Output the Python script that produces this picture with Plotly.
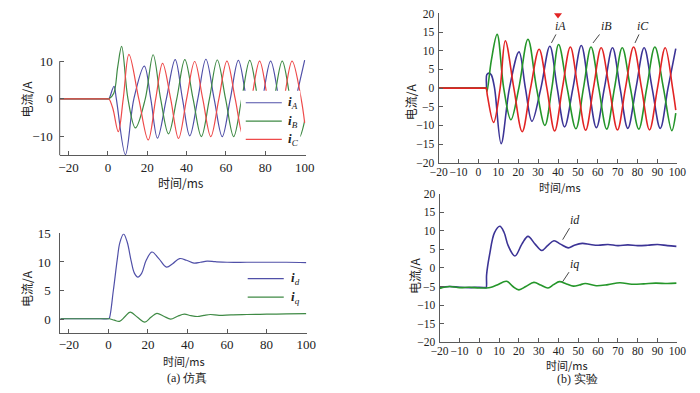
import plotly.graph_objects as go

W, H = 700, 393

# ---------------- data ----------------
# (a) simulation: three-phase currents (ms, A)
simA_t = [-24.5, -12.0, -4.0, 0.0, 0.5, 3.1, 4.3, 8.9, 13.2, 18.5, 21.8, 25.2, 29.7, 34.2, 37.9,
          41.6, 45.7, 49.8, 54.0, 58.1, 62.2, 66.3, 70.4, 74.6, 78.6, 82.7, 86.9, 91.0, 95.5, 100.0]
simA_v = [0, 0, 0, 0, 0, 3.3, 0, -14.8, 0, 8.7, 0, -10.4, 0, 10.4, 0,
          -9.8, 0, 10.5, 0, -10.0, 0, 10.2, 0, -10.0, 0, 10.0, 0, -10.0, 0, 10.3]
simB_t = [-24.5, -12.0, -4.0, 0.0, 0.5, 3.0, 5.0, 7.0, 10.2, 14.0, 19.0, 23.0, 26.8, 30.8, 35.0,
          39.1, 43.3, 47.5, 51.6, 55.6, 59.8, 63.9, 68.0, 72.1, 76.2, 80.4, 84.5, 88.6, 92.7, 97.2,
          100.0]
simB_v = [0, 0, 0, 0, 0, 1.5, 8.5, 13.9, 0, -7.7, 0, 11.7, 0, -9.3, 0,
          10.4, 0, -10.0, 0, 10.3, 0, -10.0, 0, 10.2, 0, -10.0, 0, 10.0, 0, -10.2,
          -5.8]
simC_t = [-24.5, -12.0, -4.0, 0.0, 0.5, 2.5, 5.3, 7.8, 10.7, 15.7, 20.5, 24.3, 27.8, 31.9, 35.9,
          40.0, 44.1, 48.2, 52.3, 56.4, 60.5, 64.7, 68.8, 73.0, 77.1, 81.2, 85.3, 89.5, 93.6, 98.2,
          100.0]
simC_v = [0, 0, 0, 0, 0, -2.5, -8.7, 0, 11.8, 0, -10.9, 0, 9.4, 0, -10.5,
          0, 9.9, 0, -10.0, 0, 10.0, 0, -10.0, 0, 10.0, 0, -10.0, 0, 10.0, 0,
          -6.4]

# (a) simulation: d-q currents
simD_t = [-24.3, -12.0, -4.0, 0.0, 0.4, 2.5, 4.5, 5.8, 7.7, 9.5, 11.5, 13.2, 14.9, 16.8, 19.0,
          22.0, 25.5, 29.4, 32.5, 36.0, 39.5, 43.3, 46.5, 49.9, 54.0, 60.0, 70.0, 80.0, 90.0, 100.0]
simD_v = [0.05, 0.05, 0.05, 0.05, 0.1, 5.0, 10.5, 13.4, 14.9, 13.5, 10.2, 8.0, 7.35, 8.0, 10.2,
          11.75, 10.6, 9.1, 9.7, 10.6, 10.3, 9.8, 9.95, 10.15, 10.05, 9.95, 9.95, 9.95, 9.95, 9.9]
simQ_t = [-24.3, -12.0, -4.0, 0.0, 0.5, 3.0, 5.6, 8.3, 11.0, 14.7, 18.4, 21.5, 24.5, 28.0,
          31.5, 35.0, 38.4, 41.7, 45.0, 48.3, 51.6, 56.0, 62.0, 70.0, 80.0, 90.0, 100.0]
simQ_v = [0.05, 0.05, 0.05, 0.05, 0.05, -0.2, -0.4, 0.4, 1.2, 0.3, -0.55, 0.3, 1.0, 0.5,
          0.0, 0.5, 0.85, 0.6, 0.45, 0.65, 0.8, 0.65, 0.75, 0.8, 0.85, 0.9, 0.95]

# (b) experiment: three-phase currents
expA_t = [-20, -12, -4, 3.5, 3.9, 4.2, 5.5, 6.5, 8.1, 11.4, 15.6, 20.4, 23.6, 26.9, 31.4, 35.9,
          39.6, 43.3, 47.5, 51.7, 55.5, 59.3, 63.3, 67.4, 71.2, 75.1, 79.2, 83.3, 87.3, 91.4,
          95.3, 99.2]
expA_v = [0, 0, 0, 0, 0, 3.6, 4.0, 3.5, 0, -14.9, 0, 9.7, 0, -8.9, 0, 11.2,
          0, -10.4, 0, 11.4, 0, -10.6, 0, 10.8, 0, -10.8, 0, 10.8, 0, -10.8,
          0, 10.6]
expB_t = [-20, -12, -4, 3.5, 3.9, 4.3, 6.5, 9.4, 12.7, 16.3, 20.3, 24.9, 29.2, 33.4, 36.9, 40.3,
          44.6, 49.0, 52.8, 56.6, 60.5, 64.5, 68.4, 72.3, 76.4, 80.6, 84.6, 88.7, 93.0, 97.2, 99.2]
expB_v = [0, 0, 0, 0, 0, -0.9, 7.5, 14.4, 0, -8.5, 0, 13.1, 0, -10.0, 0, 11.7,
          0, -10.9, 0, 11.0, 0, -11.0, 0, 10.8, 0, -11.0, 0, 11.0, 0, -11.4, -6.7]
expC_t = [-20, -12, -4, 3.5, 3.9, 4.5, 7.6, 10.9, 13.5, 17.8, 22.0, 26.2, 30.5, 34.4, 38.3, 42.2,
          46.2, 50.0, 53.9, 57.8, 61.7, 65.8, 69.9, 73.9, 78.0, 82.0, 86.0, 90.0, 93.9, 97.6, 99.2]
expC_v = [0, 0, 0, 0, 0, -2.0, -9.2, 0, 12.7, 0, -11.7, 0, 10.4, 0, -11.5, 0,
          11.0, 0, -11.3, 0, 10.8, 0, -11.2, 0, 11.0, 0, -11.2, 0, 10.8, 0, -5.9]
trig_t = [40.0]
trig_v = [19.6]

# (b) experiment: d-q currents
expD_t = [-20, -15, -10, -5, 0, 3.0, 3.5, 3.7, 5.2, 7.7, 10.4, 12.5, 14.6, 18.0, 21.5, 24.6,
          28.2, 31.5, 34.5, 37.7, 41.0, 44.9, 48.0, 52.0, 56.0, 60.0, 65.0, 70.0, 75.0, 80.0,
          85.0, 90.0, 95.0, 99.5]
expD_v = [-5.3, -5.0, -5.2, -5.3, -5.2, -5.3, -5.3, -1.9, 3.5, 9.5, 11.2, 9.6, 6.0, 3.2, 6.4, 8.5,
          6.4, 4.7, 6.0, 7.3, 6.4, 5.4, 6.1, 6.6, 6.3, 6.1, 6.3, 6.0, 6.2, 6.0,
          6.1, 6.3, 6.0, 5.8]
expQ_t = [-20, -15, -10, -5, 0, 3.5, 6.0, 9.0, 13.8, 17.0, 20.0, 23.5, 27.6, 31.0, 34.7, 37.5,
          40.5, 44.0, 47.5, 50.5, 53.5, 59.0, 65.0, 71.0, 77.0, 83.0, 89.0, 95.0, 99.5]
expQ_v = [-5.5, -5.0, -5.3, -5.2, -5.4, -5.4, -5.2, -4.6, -3.6, -5.0, -5.9, -5.0, -3.9, -4.6,
          -5.4, -4.5, -3.7, -4.3, -4.9, -4.6, -4.2, -4.8, -4.5, -4.0, -4.4, -4.3, -4.1, -4.2, -4.1]

# ---------------- styling ----------------
SERIF = "Liberation Serif, Times New Roman, serif"
CJK = "Noto Sans CJK SC"
AX = "#5a5a5a"
TXT = "#222222"
simBlue, simGreen, simRed = "#5050a8", "#3f8a45", "#ee4a4a"
expBlue, expGreen, expRed = "#3c3496", "#25962a", "#e22424"


def X(px):
    return px / W


def Y(py):
    return 1 - py / H


fig = go.Figure()


def add(t, v, color, xa, ya, width, name):
    fig.add_trace(go.Scatter(x=t, y=v, mode="lines", name=name,
                             line=dict(color=color, width=width, shape="spline", smoothing=1.0),
                             xaxis=xa, yaxis=ya, showlegend=False, hoverinfo="skip"))


add(simA_t, simA_v, simBlue, "x", "y", 1.2, "iA")
add(simB_t, simB_v, simGreen, "x", "y", 1.2, "iB")
add(simC_t, simC_v, simRed, "x", "y", 1.2, "iC")
add(simD_t, simD_v, simBlue, "x2", "y2", 1.2, "id")
add(simQ_t, simQ_v, simGreen, "x2", "y2", 1.2, "iq")
add(expA_t, expA_v, expBlue, "x3", "y3", 1.6, "iA")
add(expB_t, expB_v, expGreen, "x3", "y3", 1.6, "iB")
add(expC_t, expC_v, expRed, "x3", "y3", 1.6, "iC")
add(expD_t, expD_v, expBlue, "x4", "y4", 1.6, "id")
add(expQ_t, expQ_v, expGreen, "x4", "y4", 1.6, "iq")
fig.add_trace(go.Scatter(x=trig_t, y=trig_v, mode="markers", xaxis="x3", yaxis="y3",
                         marker=dict(symbol="triangle-down", size=7, color=expRed),
                         cliponaxis=False, showlegend=False, hoverinfo="skip"))


def xax(dom, rng, size, tickvals, anchor, standoff=0):
    return dict(domain=dom, range=rng, showline=True, linecolor=AX, linewidth=1,
                ticks="inside", ticklen=4, tickcolor=AX, showgrid=False, zeroline=False,
                tickangle=0, tickmode="array", tickvals=tickvals, anchor=anchor,
                ticklabelstandoff=standoff,
                tickfont=dict(family=SERIF, size=size, color=TXT))


def yax(dom, rng, size, tickvals, anchor, line=True, standoff=2):
    return dict(domain=dom, range=rng, showline=line, linecolor=AX, linewidth=1,
                ticks="inside", ticklen=4, tickcolor=AX, showgrid=False, zeroline=False,
                tickmode="array", tickvals=tickvals, anchor=anchor, ticklabelstandoff=standoff,
                tickfont=dict(family=SERIF, size=size, color=TXT))


sim_ticks = [-20, 0, 20, 40, 60, 80, 100]
exp_ticks = [-20, -10, 0, 10, 20, 30, 40, 50, 60, 70, 80, 90, 100]
exp_yticks = [-20, -15, -10, -5, 0, 5, 10, 15, 20]

fig.update_layout(
    width=W, height=H, margin=dict(l=0, r=0, t=0, b=0),
    paper_bgcolor="white", plot_bgcolor="white", showlegend=False,
    xaxis=xax([X(52), X(304.5)], [-24.5, 100.5], 13, sim_ticks, "y"),
    yaxis=yax([Y(153.5), Y(36.5)], [-15, 15], 13, [-10, 0, 10], "x", line=False, standoff=6),
    xaxis2=xax([X(52.7), X(305.6)], [-24.3, 100.3], 13, sim_ticks, "y2"),
    yaxis2=yax([Y(336.9), Y(234.2)], [-2.4, 15], 13, [0, 5, 10, 15], "x2", standoff=6),
    xaxis3=xax([X(441), X(686)], [-20, 100], 11.5, exp_ticks, "y3", standoff=-1),
    yaxis3=yax([Y(161), Y(6.7)], [-20, 20], 11.5, exp_yticks, "x3", standoff=1),
    xaxis4=xax([X(442), X(686)], [-20, 100], 11.5, exp_ticks, "y4", standoff=-2),
    yaxis4=yax([Y(346.7), Y(193)], [-20, 20], 11.5, exp_yticks, "x4", standoff=1),
)

shapes = []
# left spine of the top-left plot (stops at 10)
shapes.append(dict(type="line", xref="x domain", yref="y", x0=0, x1=0, y0=-15, y1=10,
                   line=dict(color=AX, width=1), layer="above"))
# legend of top-left plot: white box covering curves
shapes.append(dict(type="rect", xref="paper", yref="paper", x0=X(238), x1=X(299),
                   y0=Y(143), y1=Y(86.5), fillcolor="white", line=dict(width=0), layer="above"))
legend_tl = [(99, simBlue, "A"), (118, simGreen, "B"), (137, simRed, "C")]
legend_bl = [(281, simBlue, "d"), (300, simGreen, "q")]
ann = []
for py, c, s in legend_tl:
    shapes.append(dict(type="line", xref="paper", yref="paper", x0=X(243), x1=X(280),
                       y0=Y(py), y1=Y(py), line=dict(color=c, width=1.2), layer="above"))
    ann.append(dict(x=X(284), y=Y(py), xref="paper", yref="paper", xanchor="left",
                    yanchor="middle", showarrow=False,
                    text="<b><i>i</i></b><sub><i>%s</i></sub>" % s,
                    font=dict(family=SERIF, size=13, color=TXT)))
for py, c, s in legend_bl:
    shapes.append(dict(type="line", xref="paper", yref="paper", x0=X(245), x1=X(282),
                       y0=Y(py), y1=Y(py), line=dict(color=c, width=1.2), layer="above"))
    ann.append(dict(x=X(287), y=Y(py), xref="paper", yref="paper", xanchor="left",
                    yanchor="middle", showarrow=False,
                    text="<b><i>i</i></b><sub><i>%s</i></sub>" % s,
                    font=dict(family=SERIF, size=13, color=TXT)))


def label(px, py, text, size=12, angle=0, family=CJK):
    ann.append(dict(x=X(px), y=Y(py), xref="paper", yref="paper", xanchor="center",
                    yanchor="middle", showarrow=False, text=text, textangle=angle,
                    font=dict(family=family, size=size, color=TXT)))


label(18, 95, "电流/A", 12, -90)
label(177, 182, "时间/ms", 12)
label(18, 291, "电流/A", 12, -90)
label(180, 366, "时间/ms", 11)
label(183, 384, "(a) 仿真", 12, 0, SERIF)
label(412, 98, "电流/A", 12, -90)
label(566, 186, "时间/ms", 11)
label(417, 278, "电流/A", 12, -90)
label(573, 370.5, "时间/ms", 11)
label(583, 384.5, "(b) 实验", 12, 0, SERIF)


# leader-line labels on experimental plots
def callout(xa, ya, x, y, ax, ay, text):
    ann.append(dict(x=x, y=y, xref=xa, yref=ya, ax=ax, ay=ay,
                    text="<i>%s</i>" % text, showarrow=True, arrowhead=0, arrowwidth=0.9,
                    arrowcolor="#333333", standoff=0, startstandoff=0,
                    font=dict(family=SERIF, size=12, color=TXT)))


callout("x3", "y3", 36.7, 12.1, 9, -17, "iA")
callout("x3", "y3", 57.6, 12.1, 13, -17, "iB")
callout("x3", "y3", 78.7, 12.1, 8, -17, "iC")
callout("x4", "y4", 42.1, 7.6, 12, -20, "id")
callout("x4", "y4", 42.1, -3.7, 12, -18, "iq")

fig.update_layout(shapes=shapes, annotations=ann)
fig.write_html("out.html", config={"displayModeBar": False},
               post_script="document.body.style.margin='0px';")
